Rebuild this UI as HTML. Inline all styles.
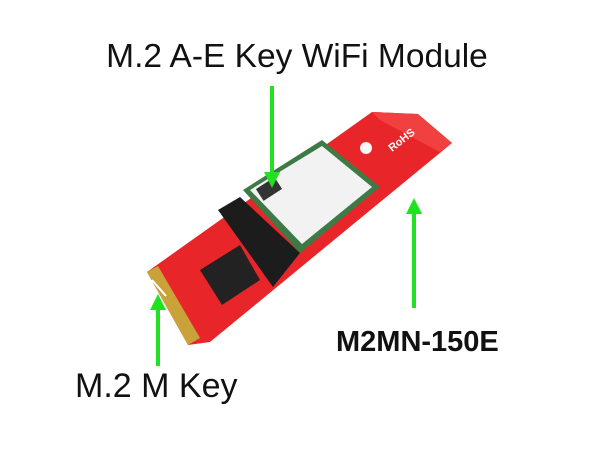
<!DOCTYPE html>
<html><head><style>
html,body{margin:0;padding:0;background:#fff;}
svg{display:block;}
text{font-family:"Liberation Sans",sans-serif;}
</style></head><body>
<svg width="600" height="450" viewBox="0 0 600 450">
<rect width="600" height="450" fill="#fff"/>
<polygon points="147,272 372,112 418,114 452,143 210,342 188,345" fill="#e8262a"/>
<polygon points="372,112 418,114 452,143 440,152 380,120" fill="#f04040"/>
<polygon points="147,272 158,266 200,338 188,345" fill="#c9a23a"/>
<line x1="152" y1="280" x2="166" y2="296" stroke="#fff" stroke-width="2"/>
<polygon points="218,210 240,197 300,253 273,287" fill="#1c1c1c"/>
<polygon points="200,270 240,245 260,280 222,305" fill="#222"/>
<polygon points="243,190 322,140 380,187 300,253" fill="#3d7a45"/>
<polygon points="250,190 322,146 372,187 302,244" fill="#f2f2f2"/>
<rect x="258" y="182" width="22" height="14" fill="#333" transform="rotate(-33 269 189)"/>
<circle cx="366" cy="148" r="6" fill="#f7f7f7"/>
<text x="392" y="152" font-size="11" fill="#fff" font-weight="bold" transform="rotate(-38 392 152)">RoHS</text>
<g stroke="#22e022" stroke-width="4">
<line x1="272" y1="86" x2="272" y2="178"/>
<line x1="414" y1="210" x2="414" y2="308"/>
<line x1="158" y1="306" x2="158" y2="366"/>
</g>
<g fill="#22e022">
<polygon points="264,172 280,172 272,188"/>
<polygon points="406,214 422,214 414,198"/>
<polygon points="150,310 166,310 158,294"/>
</g>
<text x="297" y="67" font-size="33.5" text-anchor="middle" fill="#111">M.2 A-E Key WiFi Module</text>
<text x="336" y="351" font-size="29" font-weight="bold" fill="#111">M2MN-150E</text>
<text x="75" y="397" font-size="34" fill="#111">M.2 M Key</text>
</svg>
</body></html>
